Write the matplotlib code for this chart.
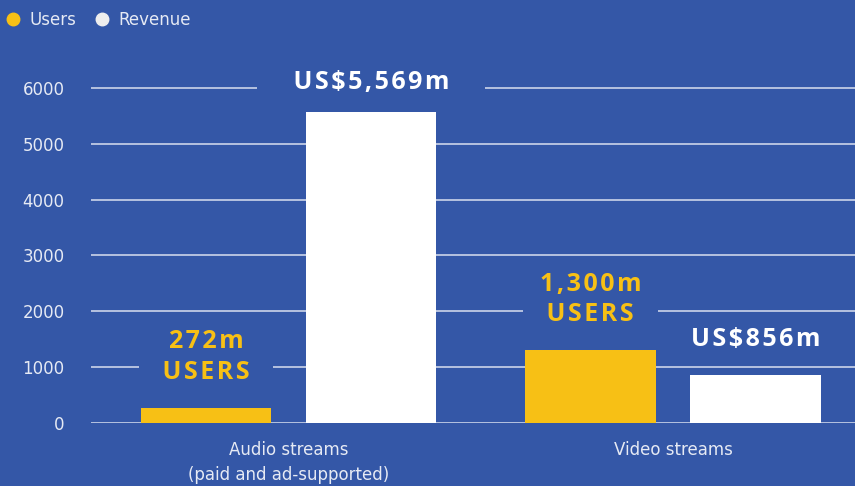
import matplotlib
matplotlib.use("Agg")
import matplotlib.pyplot as plt
from matplotlib.lines import Line2D
import numpy as np

categories = ["Audio streams\n(paid and ad-supported)", "Video streams"]
users = [272, 1300]
revenue = [5569, 856]
user_labels = ["272m\nUSERS", "1,300m\nUSERS"]
revenue_labels = ["US$5,569m", "US$856m"]
yticks = [0, 1000, 2000, 3000, 4000, 5000, 6000]

BG = "#3457A7"
YEL = "#F7C015"
WHITE = "#FFFFFF"
TXT = "#E6EAF4"
LFONT = ["Open Sans", "DejaVu Sans"]


def spaced(s):
    return "\n".join("\u200a".join(line) for line in s.split("\n"))


fig = plt.figure(figsize=(8.55, 4.86), dpi=100, facecolor=BG)
ax = fig.add_axes([91/855, 63/486, 1 - 91/855, 0.7583])
ax.set_facecolor(BG)

x = np.arange(len(categories))
w = 0.34
off = 0.2146
ax.bar(x - off, users, w, color=YEL, zorder=2)
ax.bar(x + off, revenue, w, color=WHITE, zorder=2)

ax.set_xlim(-0.5137, 1.4733)
ax.set_ylim(0, 6600)
ax.set_yticks(yticks)
ax.set_yticklabels([str(t) for t in yticks])
ax.yaxis.grid(True, color="#CCD4EA", linewidth=1.2, zorder=0)
ax.set_axisbelow(True)
for s in ax.spines.values():
    s.set_visible(False)
ax.tick_params(axis="y", length=0, pad=19, labelsize=12, labelcolor=TXT)
ax.set_xticks(x)
ax.set_xticklabels(categories, fontsize=12, color=TXT, linespacing=1.5)
ax.tick_params(axis="x", length=0, pad=13)

bbox = dict(boxstyle="square,pad=0.15", fc=BG, ec="none")
for xi, v, lab in zip(x - off, users, user_labels):
    l1, l2 = spaced(lab).split("\n")
    lab2 = "  " + l1 + "  \n   " + l2 + "   "
    ax.annotate(lab2, (xi, v), xytext=(0, 21), textcoords="offset points",
                ha="center", va="baseline", color=YEL, fontsize=18,
                fontweight="bold", linespacing=1.3, bbox=bbox, zorder=3,
                family=LFONT, multialignment="center")
for i, (xi, v, lab) in enumerate(zip(x + off, revenue, revenue_labels)):
    if i == 0:
        lab2 = "     " + spaced(lab) + "     "
        bb = bbox
        dy = 16.5
    else:
        lab2 = spaced(lab)
        bb = None
        dy = 21
    ax.annotate(lab2, (xi, v), xytext=(0, dy), textcoords="offset points",
                ha="center", va="baseline", color=WHITE, fontsize=18,
                fontweight="bold", bbox=bb, zorder=3, family=LFONT)

handles = [Line2D([], [], marker="o", linestyle="none", markersize=9,
                  markerfacecolor=YEL, markeredgecolor=YEL),
           Line2D([], [], marker="o", linestyle="none", markersize=9,
                  markerfacecolor="#EEEEEE", markeredgecolor="#EEEEEE")]
leg = fig.legend(handles, ["Users", "Revenue"], loc="upper left",
                 bbox_to_anchor=(-0.012, 1.008), ncol=2, frameon=False,
                 handletextpad=0.5, columnspacing=1.0, fontsize=12,
                 handlelength=1.0)
for t in leg.get_texts():
    t.set_color(TXT)

fig.savefig("out.png", dpi=100, facecolor=BG)
